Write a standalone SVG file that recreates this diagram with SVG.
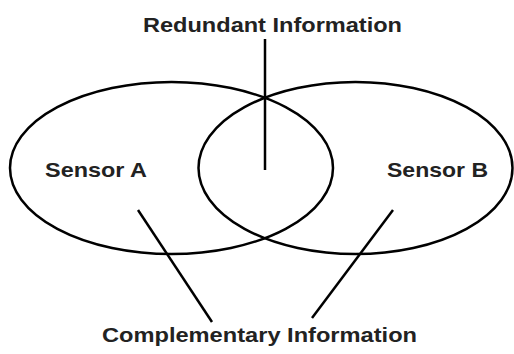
<svg xmlns="http://www.w3.org/2000/svg" width="514" height="354" viewBox="0 0 514 354">
<style>
.shape{fill:none;stroke:#000;stroke-width:2.5}
.conn{stroke:#000;stroke-width:2.5;fill:none}
.lbl{font-family:"Liberation Sans",Arial,sans-serif;font-weight:bold;font-size:21px;fill:#222}
</style>
<rect width="514" height="354" fill="#fff"/>
<g id="sensorA">
<ellipse class="shape" cx="171.5" cy="168" rx="161.5" ry="86"/>
<text class="lbl" x="45" y="177" textLength="102" lengthAdjust="spacingAndGlyphs">Sensor A</text>
</g>
<g id="sensorB">
<ellipse class="shape" cx="355.5" cy="168" rx="157" ry="86"/>
<text class="lbl" x="387" y="177" textLength="101" lengthAdjust="spacingAndGlyphs">Sensor B</text>
</g>
<g id="redundant">
<text class="lbl" x="143" y="32" textLength="259" lengthAdjust="spacingAndGlyphs">Redundant Information</text>
</g>
<g id="complementary">
<text class="lbl" x="102" y="342" textLength="315" lengthAdjust="spacingAndGlyphs">Complementary Information</text>
</g>
<g id="connectors">
<line class="conn" x1="265" y1="39" x2="265" y2="170"/>
<line class="conn" x1="138" y1="210" x2="212" y2="322"/>
<line class="conn" x1="393" y1="210" x2="312" y2="318"/>
</g>
</svg>
